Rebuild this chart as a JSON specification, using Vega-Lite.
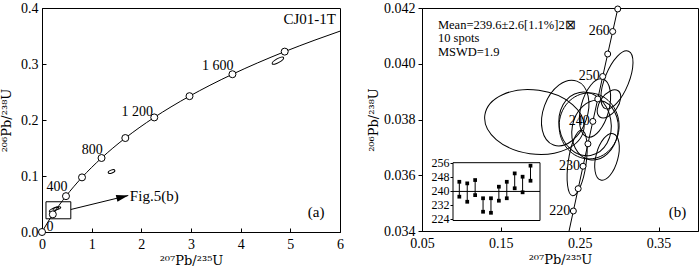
{
  "$schema": "https://vega.github.io/schema/vega-lite/v6.json",
  "padding": {"left": 0, "top": 0, "right": 0, "bottom": 0},
  "background": "white",
  "config": {
    "view": {"stroke": "black", "strokeWidth": 1},
    "axis": {"grid": false, "domainColor": "black", "tickColor": "black", "labelColor": "black", "titleColor": "black", "labelFont": "Liberation Serif", "titleFont": "DejaVu Serif", "labelFontSize": 14, "titleFontSize": 13, "titleFontWeight": "normal", "labelFlush": false, "labelOverlap": false},
    "text": {"font": "Liberation Serif", "color": "black"}
  },
  "datasets": {
    "concA": [
      {"t": 0, "x": 0, "y": 0}, {"t": 100, "x": 0.1035, "y": 0.015633}, {"t": 200, "x": 0.21771, "y": 0.031511},
      {"t": 300, "x": 0.34374, "y": 0.047637}, {"t": 400, "x": 0.48281, "y": 0.064016}, {"t": 500, "x": 0.63628, "y": 0.08065},
      {"t": 600, "x": 0.80563, "y": 0.097544}, {"t": 700, "x": 0.99251, "y": 0.1147}, {"t": 800, "x": 1.19873, "y": 0.13213},
      {"t": 900, "x": 1.4263, "y": 0.14983}, {"t": 1000, "x": 1.67741, "y": 0.1678}, {"t": 1100, "x": 1.9545, "y": 0.18606},
      {"t": 1200, "x": 2.2603, "y": 0.2046}, {"t": 1300, "x": 2.5977, "y": 0.22343}, {"t": 1400, "x": 2.9701, "y": 0.24256},
      {"t": 1500, "x": 3.381, "y": 0.26199}, {"t": 1600, "x": 3.8344, "y": 0.28172}, {"t": 1700, "x": 4.3348, "y": 0.30175},
      {"t": 1800, "x": 4.8869, "y": 0.3221}, {"t": 1900, "x": 5.4962, "y": 0.34277}, {"t": 1976, "x": 6.0, "y": 0.35866}
    ],
    "dotsA": [
      {"t": 0, "x": 0, "y": 0}, {"t": 200, "x": 0.21771, "y": 0.031511}, {"t": 400, "x": 0.48281, "y": 0.064016},
      {"t": 600, "x": 0.80563, "y": 0.097544}, {"t": 800, "x": 1.19873, "y": 0.13213}, {"t": 1000, "x": 1.67741, "y": 0.1678},
      {"t": 1200, "x": 2.2603, "y": 0.2046}, {"t": 1400, "x": 2.9701, "y": 0.24256}, {"t": 1600, "x": 3.8344, "y": 0.28172},
      {"t": 1800, "x": 4.8869, "y": 0.3221}
    ],
    "labA": [
      {"x": 0.16, "y": 0.0089, "text": "0"},
      {"x": 0.30, "y": 0.0795, "text": "400"},
      {"x": 1.01, "y": 0.147, "text": "800"},
      {"x": 1.92, "y": 0.215, "text": "1 200"},
      {"x": 3.54, "y": 0.297, "text": "1 600"}
    ],
    "notesA": [
      {"x": 5.39, "y": 0.3795, "text": "CJ01-1T"},
      {"x": 5.52, "y": 0.0366, "text": "(a)"},
      {"x": 2.26, "y": 0.0634, "text": "Fig.5(b)"}
    ],
    "ellA": [
      {"id": 1, "x": 4.75, "y": 0.306},
      {"id": 2, "x": 1.40, "y": 0.108},
      {"id": 3, "x": 0.24, "y": 0.040},
      {"id": 4, "x": 0.30, "y": 0.042}
    ],
    "boxA": [{"x": 0.08, "x2": 0.58, "y": 0.0236, "y2": 0.054}],
    "arrowA": [{"x": 0.58, "y": 0.0402}, {"x": 1.737, "y": 0.0652}],
    "headA": [{"x": 1.737, "y": 0.0652}],
    "concB": [
      {"t": 210, "x": 0.22976, "y": 0.033113}, {"t": 215, "x": 0.23583, "y": 0.033914}, {"t": 220, "x": 0.24193, "y": 0.034717},
      {"t": 225, "x": 0.24806, "y": 0.035519}, {"t": 230, "x": 0.25422, "y": 0.036323}, {"t": 235, "x": 0.26041, "y": 0.037127},
      {"t": 240, "x": 0.26664, "y": 0.037932}, {"t": 245, "x": 0.27289, "y": 0.038737}, {"t": 250, "x": 0.27917, "y": 0.039543},
      {"t": 255, "x": 0.28549, "y": 0.04035}, {"t": 260, "x": 0.29183, "y": 0.041157}, {"t": 265, "x": 0.29821, "y": 0.041965},
      {"t": 267, "x": 0.30077, "y": 0.042288}
    ],
    "dotsB": [
      {"t": 220, "x": 0.24193, "y": 0.034717, "lab": "220"}, {"t": 225, "x": 0.24806, "y": 0.035519, "lab": ""},
      {"t": 230, "x": 0.25422, "y": 0.036323, "lab": "230"}, {"t": 235, "x": 0.26041, "y": 0.037127, "lab": ""},
      {"t": 240, "x": 0.26664, "y": 0.037932, "lab": "240"}, {"t": 245, "x": 0.27289, "y": 0.038737, "lab": ""},
      {"t": 250, "x": 0.27917, "y": 0.039543, "lab": "250"}, {"t": 255, "x": 0.28549, "y": 0.04035, "lab": ""},
      {"t": 260, "x": 0.29183, "y": 0.041157, "lab": "260"}, {"t": 265, "x": 0.29821, "y": 0.041965, "lab": ""}
    ],
    "ellB": [
      {"id": 1, "x": 0.1925, "y": 0.03791},
      {"id": 2, "x": 0.2316, "y": 0.03823},
      {"id": 3, "x": 0.2972, "y": 0.03942},
      {"id": 4, "x": 0.2619, "y": 0.03777},
      {"id": 5, "x": 0.2568, "y": 0.03784},
      {"id": 6, "x": 0.2694, "y": 0.03762},
      {"id": 7, "x": 0.2846, "y": 0.03666},
      {"id": 8, "x": 0.2467, "y": 0.03644},
      {"id": 9, "x": 0.2694, "y": 0.03841},
      {"id": 10, "x": 0.2871, "y": 0.03856}
    ],
    "meanB": [
      {"x": 0.0702, "y": 0.04139, "text": "Mean=239.6±2.6[1.1%]2⊠"},
      {"x": 0.0702, "y": 0.040913, "text": "10 spots"},
      {"x": 0.0702, "y": 0.040432, "text": "MSWD=1.9"}
    ],
    "noteB": [{"x": 0.3741, "y": 0.034682, "text": "(b)"}],
    "insetFrame": [{"i": 0.2, "i2": 11.2, "v": 223, "v2": 256}],
    "insetMean": [{"i": 0.2, "i2": 11.2, "v": 239.6}],
    "insetBars": [
      {"i": 1, "v": 236.6, "v2": 245.1}, {"i": 2, "v": 233.7, "v2": 244.2}, {"i": 3, "v": 237.5, "v2": 246.1},
      {"i": 4, "v": 228.0, "v2": 235.7}, {"i": 5, "v": 227.4, "v2": 235.7}, {"i": 6, "v": 234.3, "v2": 242.3},
      {"i": 7, "v": 235.7, "v2": 245.1}, {"i": 8, "v": 241.4, "v2": 249.9}, {"i": 9, "v": 239.1, "v2": 248.0},
      {"i": 10, "v": 245.7, "v2": 254.3}
    ],
    "insetPts": [
      {"i": 1, "v": 236.6}, {"i": 1, "v": 245.1}, {"i": 2, "v": 233.7}, {"i": 2, "v": 244.2},
      {"i": 3, "v": 237.5}, {"i": 3, "v": 246.1}, {"i": 4, "v": 228.0}, {"i": 4, "v": 235.7},
      {"i": 5, "v": 227.4}, {"i": 5, "v": 235.7}, {"i": 6, "v": 234.3}, {"i": 6, "v": 242.3},
      {"i": 7, "v": 235.7}, {"i": 7, "v": 245.1}, {"i": 8, "v": 241.4}, {"i": 8, "v": 249.9},
      {"i": 9, "v": 239.1}, {"i": 9, "v": 248.0}, {"i": 10, "v": 245.7}, {"i": 10, "v": 254.3}
    ]
  },
  "spacing": 82,
  "bounds": "flush",
  "hconcat": [
    {
      "width": 298,
      "height": 224,
      "encoding": {
        "x": {"field": "x", "type": "quantitative", "scale": {"domain": [0, 6], "nice": false, "zero": false},
              "axis": {"title": "²⁰⁷Pb/²³⁵U", "values": [0, 1, 2, 3, 4, 5, 6], "format": "d", "tickSize": -4, "labelPadding": 9, "titlePadding": 3}},
        "y": {"field": "y", "type": "quantitative", "scale": {"domain": [0, 0.4], "nice": false, "zero": false},
              "axis": {"title": "²⁰⁶Pb/²³⁸U", "values": [0, 0.1, 0.2, 0.3, 0.4], "format": ".1f", "tickSize": -4, "labelPadding": 8, "titlePadding": 7}}
      },
      "layer": [
        {"data": {"name": "concA"}, "mark": {"type": "line", "color": "black", "strokeWidth": 1, "interpolate": "monotone"}},
        {"data": {"name": "boxA"}, "mark": {"type": "rect", "fillOpacity": 0, "stroke": "black", "strokeWidth": 1},
         "encoding": {"x2": {"field": "x2"}, "y2": {"field": "y2"}}},
        {"data": {"name": "arrowA"}, "mark": {"type": "line", "color": "black", "strokeWidth": 1}},
        {"data": {"name": "headA"}, "mark": {"type": "point", "shape": "M0,0L-12,-3.5L-12,3.5Z", "size": 4, "angle": -13.6, "filled": true, "color": "black", "opacity": 1}},
        {"data": {"name": "ellA"}, "transform": [{"filter": "datum.id == 1"}],
         "mark": {"type": "point", "shape": "M6.5,0C6.5,1.1 3.6,2 0,2C-3.6,2 -6.5,1.1 -6.5,0C-6.5,-1.1 -3.6,-2 0,-2C3.6,-2 6.5,-1.1 6.5,0Z", "size": 4, "angle": -30, "filled": false, "stroke": "black", "strokeWidth": 1, "opacity": 1}},
        {"data": {"name": "ellA"}, "transform": [{"filter": "datum.id == 2"}],
         "mark": {"type": "point", "shape": "M3.5,0C3.5,0.8 1.9,1.5 0,1.5C-1.9,1.5 -3.5,0.8 -3.5,0C-3.5,-0.8 -1.9,-1.5 0,-1.5C1.9,-1.5 3.5,-0.8 3.5,0Z", "size": 4, "angle": -20, "filled": false, "stroke": "black", "strokeWidth": 1, "opacity": 1}},
        {"data": {"name": "ellA"}, "transform": [{"filter": "datum.id == 3"}],
         "mark": {"type": "point", "shape": "M5,0C5,0.9 2.8,1.6 0,1.6C-2.8,1.6 -5,0.9 -5,0C-5,-0.9 -2.8,-1.6 0,-1.6C2.8,-1.6 5,-0.9 5,0Z", "size": 4, "angle": -25, "filled": false, "stroke": "black", "strokeWidth": 1, "opacity": 1}},
        {"data": {"name": "ellA"}, "transform": [{"filter": "datum.id == 4"}],
         "mark": {"type": "point", "shape": "M4,0C4,0.7 2.2,1.2 0,1.2C-2.2,1.2 -4,0.7 -4,0C-4,-0.7 -2.2,-1.2 0,-1.2C2.2,-1.2 4,-0.7 4,0Z", "size": 4, "angle": -15, "filled": false, "stroke": "black", "strokeWidth": 1, "opacity": 1}},
        {"data": {"name": "dotsA"}, "mark": {"type": "point", "shape": "circle", "size": 49, "filled": true, "fill": "white", "stroke": "black", "strokeWidth": 1, "opacity": 1}},
        {"data": {"name": "labA"}, "mark": {"type": "text", "fontSize": 14, "align": "center", "baseline": "middle"},
         "encoding": {"text": {"field": "text"}}},
        {"data": {"name": "notesA"}, "mark": {"type": "text", "fontSize": 15, "align": "center", "baseline": "middle"},
         "encoding": {"text": {"field": "text"}}}
      ]
    },
    {
      "width": 276,
      "height": 223,
      "layer": [
        {
          "encoding": {
            "x": {"field": "x", "type": "quantitative", "scale": {"domain": [0.05, 0.4], "nice": false, "zero": false},
                  "axis": {"title": "²⁰⁷Pb/²³⁵U", "values": [0.05, 0.15, 0.25, 0.35], "format": ".2f", "tickSize": -4, "labelPadding": 9, "titlePadding": 3}},
            "y": {"field": "y", "type": "quantitative", "scale": {"domain": [0.034, 0.042], "nice": false, "zero": false},
                  "axis": {"title": "²⁰⁶Pb/²³⁸U", "orient": "left", "values": [0.034, 0.036, 0.038, 0.04, 0.042], "format": ".3f", "tickSize": 4, "labelPadding": 3, "titlePadding": 3}}
          },
          "layer": [
            {"data": {"name": "ellB"}, "transform": [{"filter": "datum.id == 1"}],
             "mark": {"type": "point", "shape": "M50,0C50,17.7 27.6,32 0,32C-27.6,32 -50,17.7 -50,0C-50,-17.7 -27.6,-32 0,-32C27.6,-32 50,-17.7 50,0Z", "size": 4, "angle": 8, "filled": false, "stroke": "black", "strokeWidth": 1, "opacity": 1}},
            {"data": {"name": "ellB"}, "transform": [{"filter": "datum.id == 2"}],
             "mark": {"type": "point", "shape": "M22,0C22,18.8 12.2,34 0,34C-12.2,34 -22,18.8 -22,0C-22,-18.8 -12.2,-34 0,-34C12.2,-34 22,-18.8 22,0Z", "size": 4, "angle": 20, "filled": false, "stroke": "black", "strokeWidth": 1, "opacity": 1}},
            {"data": {"name": "ellB"}, "transform": [{"filter": "datum.id == 3"}],
             "mark": {"type": "point", "shape": "M12,0C12,17.1 6.6,31 0,31C-6.6,31 -12,17.1 -12,0C-12,-17.1 -6.6,-31 0,-31C6.6,-31 12,-17.1 12,0Z", "size": 4, "angle": 22, "filled": false, "stroke": "black", "strokeWidth": 1, "opacity": 1}},
            {"data": {"name": "ellB"}, "transform": [{"filter": "datum.id == 4"}],
             "mark": {"type": "point", "shape": "M30,0C30,18.2 16.6,33 0,33C-16.6,33 -30,18.2 -30,0C-30,-18.2 -16.6,-33 0,-33C16.6,-33 30,-18.2 30,0Z", "size": 4, "angle": 0, "filled": false, "stroke": "black", "strokeWidth": 1, "opacity": 1}},
            {"data": {"name": "ellB"}, "transform": [{"filter": "datum.id == 5"}],
             "mark": {"type": "point", "shape": "M26,0C26,17.7 14.4,32 0,32C-14.4,32 -26,17.7 -26,0C-26,-17.7 -14.4,-32 0,-32C14.4,-32 26,-17.7 26,0Z", "size": 4, "angle": -10, "filled": false, "stroke": "black", "strokeWidth": 1, "opacity": 1}},
            {"data": {"name": "ellB"}, "transform": [{"filter": "datum.id == 6"}],
             "mark": {"type": "point", "shape": "M23,0C23,16.6 12.7,30 0,30C-12.7,30 -23,16.6 -23,0C-23,-16.6 -12.7,-30 0,-30C12.7,-30 23,-16.6 23,0Z", "size": 4, "angle": 10, "filled": false, "stroke": "black", "strokeWidth": 1, "opacity": 1}},
            {"data": {"name": "ellB"}, "transform": [{"filter": "datum.id == 7"}],
             "mark": {"type": "point", "shape": "M11,0C11,13.3 6.1,24 0,24C-6.1,24 -11,13.3 -11,0C-11,-13.3 -6.1,-24 0,-24C6.1,-24 11,-13.3 11,0Z", "size": 4, "angle": 15, "filled": false, "stroke": "black", "strokeWidth": 1, "opacity": 1}},
            {"data": {"name": "ellB"}, "transform": [{"filter": "datum.id == 8"}],
             "mark": {"type": "point", "shape": "M9,0C9,18.2 5,33 0,33C-5,33 -9,18.2 -9,0C-9,-18.2 -5,-33 0,-33C5,-33 9,-18.2 9,0Z", "size": 4, "angle": 8, "filled": false, "stroke": "black", "strokeWidth": 1, "opacity": 1}},
            {"data": {"name": "ellB"}, "transform": [{"filter": "datum.id == 9"}],
             "mark": {"type": "point", "shape": "M14,0C14,16.6 7.7,30 0,30C-7.7,30 -14,16.6 -14,0C-14,-16.6 -7.7,-30 0,-30C7.7,-30 14,-16.6 14,0Z", "size": 4, "angle": 15, "filled": false, "stroke": "black", "strokeWidth": 1, "opacity": 1}},
            {"data": {"name": "ellB"}, "transform": [{"filter": "datum.id == 10"}],
             "mark": {"type": "point", "shape": "M9,0C9,8.8 5,16 0,16C-5,16 -9,8.8 -9,0C-9,-8.8 -5,-16 0,-16C5,-16 9,-8.8 9,0Z", "size": 4, "angle": 35, "filled": false, "stroke": "black", "strokeWidth": 1, "opacity": 1}},
            {"data": {"name": "concB"}, "mark": {"type": "line", "color": "black", "strokeWidth": 1, "clip": true}},
            {"data": {"name": "dotsB"}, "mark": {"type": "point", "shape": "circle", "size": 36, "filled": true, "fill": "white", "stroke": "black", "strokeWidth": 1, "opacity": 1}},
            {"data": {"name": "dotsB"}, "transform": [{"filter": "datum.lab != ''"}],
             "mark": {"type": "text", "fontSize": 14, "align": "right", "baseline": "middle", "dx": -3},
             "encoding": {"text": {"field": "lab"}}},
            {"data": {"name": "meanB"}, "mark": {"type": "text", "fontSize": 12.5, "align": "left", "baseline": "middle"},
             "encoding": {"text": {"field": "text"}}},
            {"data": {"name": "noteB"}, "mark": {"type": "text", "fontSize": 15, "align": "center", "baseline": "middle"},
             "encoding": {"text": {"field": "text"}}}
          ]
        },
        {
          "encoding": {
            "x": {"field": "i", "type": "quantitative", "scale": {"domain": [0.2, 11.2], "range": [31, 118], "nice": false, "zero": false}, "axis": null},
            "y": {"field": "v", "type": "quantitative", "scale": {"domain": [223, 256], "range": [212.5, 154.7], "nice": false, "zero": false},
                  "axis": {"orient": "left", "offset": -31, "title": null, "values": [224, 232, 240, 248, 256], "format": "d", "tickSize": 3, "labelPadding": 1, "labelFontSize": 12, "domain": false}}
          },
          "layer": [
            {"data": {"name": "insetFrame"}, "mark": {"type": "rect", "fill": "white", "stroke": "black", "strokeWidth": 1},
             "encoding": {"x2": {"field": "i2"}, "y2": {"field": "v2"}}},
            {"data": {"name": "insetMean"}, "mark": {"type": "rule", "color": "black", "strokeWidth": 1},
             "encoding": {"x2": {"field": "i2"}}},
            {"data": {"name": "insetBars"}, "mark": {"type": "rule", "color": "black", "strokeWidth": 1},
             "encoding": {"y2": {"field": "v2"}}},
            {"data": {"name": "insetPts"}, "mark": {"type": "point", "shape": "square", "size": 14, "filled": true, "color": "black", "opacity": 1}}
          ]
        }
      ],
      "resolve": {"scale": {"x": "independent", "y": "independent"}, "axis": {"x": "independent", "y": "independent"}}
    }
  ]
}
